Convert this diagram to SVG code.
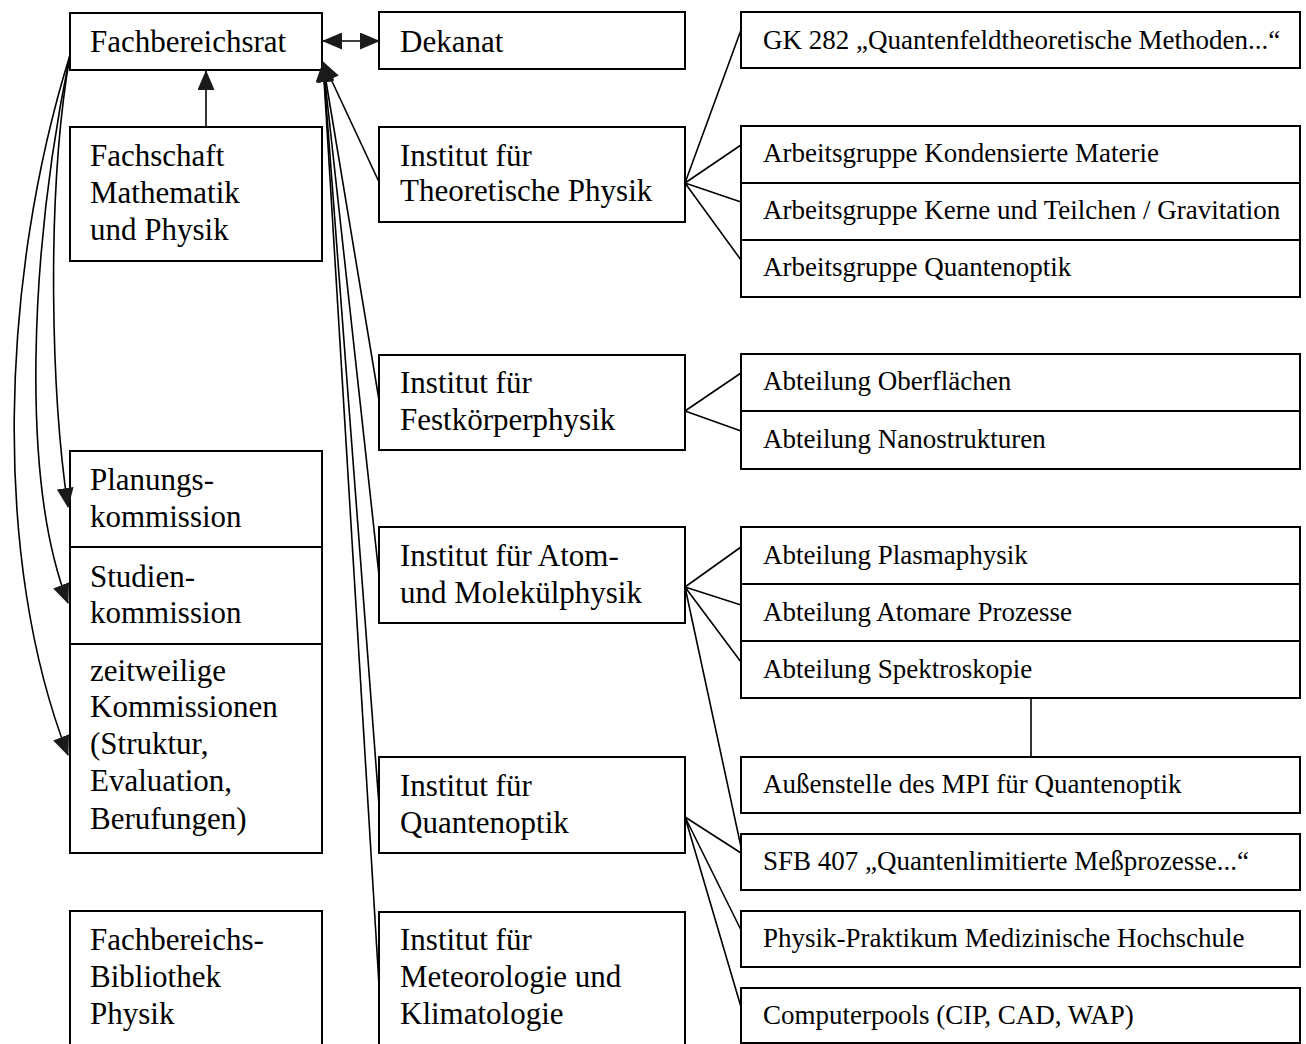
<svg xmlns="http://www.w3.org/2000/svg" width="1306" height="1044" viewBox="0 0 1306 1044">
<style>
.b{fill:#fff;stroke:#000;stroke-width:2}
.t{font-family:"Liberation Serif","Times New Roman",serif;font-size:31px;fill:#000}
.s{font-family:"Liberation Serif","Times New Roman",serif;font-size:27px;fill:#000}
.c{fill:none;stroke:#000;stroke-width:1.6}
</style>
<defs>
<marker id="ah" viewBox="0 0 20 17" refX="19" refY="8.5" markerWidth="20" markerHeight="17" markerUnits="userSpaceOnUse" orient="auto-start-reverse">
<path d="M0,0 L20,8.5 L0,17 z" fill="#1a1a1a"/>
</marker>
</defs>
<rect width="1306" height="1044" fill="#fff"/>

<g id="fachbereichsrat"><rect class="b" x="70" y="13" width="252" height="57"/><text class="t" x="90" y="52">Fachbereichsrat</text></g>
<g id="fachschaft"><rect class="b" x="70" y="127" width="252" height="134"/><text class="t" x="90" y="166">Fachschaft</text><text class="t" x="90" y="203">Mathematik</text><text class="t" x="90" y="240">und Physik</text></g>
<g id="planungskommission"><rect class="b" x="70" y="451" width="252" height="96"/><text class="t" x="90" y="490">Planungs-</text><text class="t" x="90" y="527">kommission</text></g>
<g id="studienkommission"><rect class="b" x="70" y="547" width="252" height="97"/><text class="t" x="90" y="587">Studien-</text><text class="t" x="90" y="623">kommission</text></g>
<g id="zeitweilige"><rect class="b" x="70" y="644" width="252" height="209"/><text class="t" x="90" y="681">zeitweilige</text><text class="t" x="90" y="717">Kommissionen</text><text class="t" x="90" y="754">(Struktur,</text><text class="t" x="90" y="791">Evaluation,</text><text class="t" x="90" y="829">Berufungen)</text></g>
<g id="bibliothek"><rect class="b" x="70" y="911" width="252" height="160"/><text class="t" x="90" y="950">Fachbereichs-</text><text class="t" x="90" y="987">Bibliothek</text><text class="t" x="90" y="1024">Physik</text></g>

<g id="dekanat"><rect class="b" x="379" y="12" width="306" height="57"/><text class="t" x="400" y="52">Dekanat</text></g>
<g id="theoretische"><rect class="b" x="379" y="127" width="306" height="95"/><text class="t" x="400" y="166">Institut für</text><text class="t" x="400" y="201">Theoretische Physik</text></g>
<g id="festkoerper"><rect class="b" x="379" y="355" width="306" height="95"/><text class="t" x="400" y="393">Institut für</text><text class="t" x="400" y="430">Festkörperphysik</text></g>
<g id="atom"><rect class="b" x="379" y="527" width="306" height="96"/><text class="t" x="400" y="566">Institut für Atom-</text><text class="t" x="400" y="603">und Molekülphysik</text></g>
<g id="quantenoptik"><rect class="b" x="379" y="757" width="306" height="96"/><text class="t" x="400" y="796">Institut für</text><text class="t" x="400" y="833">Quantenoptik</text></g>
<g id="meteorologie"><rect class="b" x="379" y="912" width="306" height="160"/><text class="t" x="400" y="950">Institut für</text><text class="t" x="400" y="987">Meteorologie und</text><text class="t" x="400" y="1024">Klimatologie</text></g>

<g id="gk282"><rect class="b" x="741" y="12" width="559" height="56"/><text class="s" x="763" y="49">GK 282 „Quantenfeldtheoretische Methoden...“</text></g>
<g id="ag-kondensiert"><rect class="b" x="741" y="126" width="559" height="57"/><text class="s" x="763" y="162">Arbeitsgruppe Kondensierte Materie</text></g>
<g id="ag-kerne"><rect class="b" x="741" y="183" width="559" height="57"/><text class="s" x="763" y="219">Arbeitsgruppe Kerne und Teilchen / Gravitation</text></g>
<g id="ag-quantenoptik"><rect class="b" x="741" y="240" width="559" height="57"/><text class="s" x="763" y="276">Arbeitsgruppe Quantenoptik</text></g>
<g id="abt-oberflaechen"><rect class="b" x="741" y="354" width="559" height="57"/><text class="s" x="763" y="390">Abteilung Oberflächen</text></g>
<g id="abt-nano"><rect class="b" x="741" y="411" width="559" height="58"/><text class="s" x="763" y="448">Abteilung Nanostrukturen</text></g>
<g id="abt-plasma"><rect class="b" x="741" y="527" width="559" height="57"/><text class="s" x="763" y="564">Abteilung Plasmaphysik</text></g>
<g id="abt-atomare"><rect class="b" x="741" y="584" width="559" height="57"/><text class="s" x="763" y="621">Abteilung Atomare Prozesse</text></g>
<g id="abt-spektro"><rect class="b" x="741" y="641" width="559" height="57"/><text class="s" x="763" y="678">Abteilung Spektroskopie</text></g>
<g id="mpi"><rect class="b" x="741" y="757" width="559" height="56"/><text class="s" x="763" y="793">Außenstelle des MPI für Quantenoptik</text></g>
<g id="sfb407"><rect class="b" x="741" y="834" width="559" height="56"/><text class="s" x="763" y="870">SFB 407 „Quantenlimitierte Meßprozesse...“</text></g>
<g id="praktikum"><rect class="b" x="741" y="911" width="559" height="56"/><text class="s" x="763" y="947">Physik-Praktikum Medizinische Hochschule</text></g>
<g id="computerpools"><rect class="b" x="741" y="988" width="559" height="55"/><text class="s" x="763" y="1024">Computerpools (CIP, CAD, WAP)</text></g>

<g id="connectors">
<path class="c" d="M323,41 L379,41" marker-start="url(#ah)" marker-end="url(#ah)"/>
<path class="c" d="M206,127 L206,71" marker-end="url(#ah)"/>
<path class="c" d="M379,182 L323,62" marker-end="url(#ah)"/>
<path class="c" d="M379,400 L323,63" marker-end="url(#ah)"/>
<path class="c" d="M379,575 L323,63" marker-end="url(#ah)"/>
<path class="c" d="M379,805 L323,63" marker-end="url(#ah)"/>
<path class="c" d="M379,985 L323,63" marker-end="url(#ah)"/>
<path class="c" d="M70,55 C45,200 52,400 68,507" marker-end="url(#ah)"/>
<path class="c" d="M70,55 C30,250 20,480 68,603" marker-end="url(#ah)"/>
<path class="c" d="M70,55 C0,280 -8,560 68,755" marker-end="url(#ah)"/>
<path class="c" d="M685,183 L741,30 M685,183 L741,145 M685,183 L741,202 M685,183 L741,260"/>
<path class="c" d="M685,411 L741,373 M685,411 L741,431"/>
<path class="c" d="M685,587 L741,547 M685,587 L741,605 M685,587 L741,662 M685,587 L741,847"/>
<path class="c" d="M685,817 L741,853 M685,817 L741,930 M685,817 L741,1007"/>
<path class="c" d="M1031,698 L1031,757"/>
</g>
</svg>
